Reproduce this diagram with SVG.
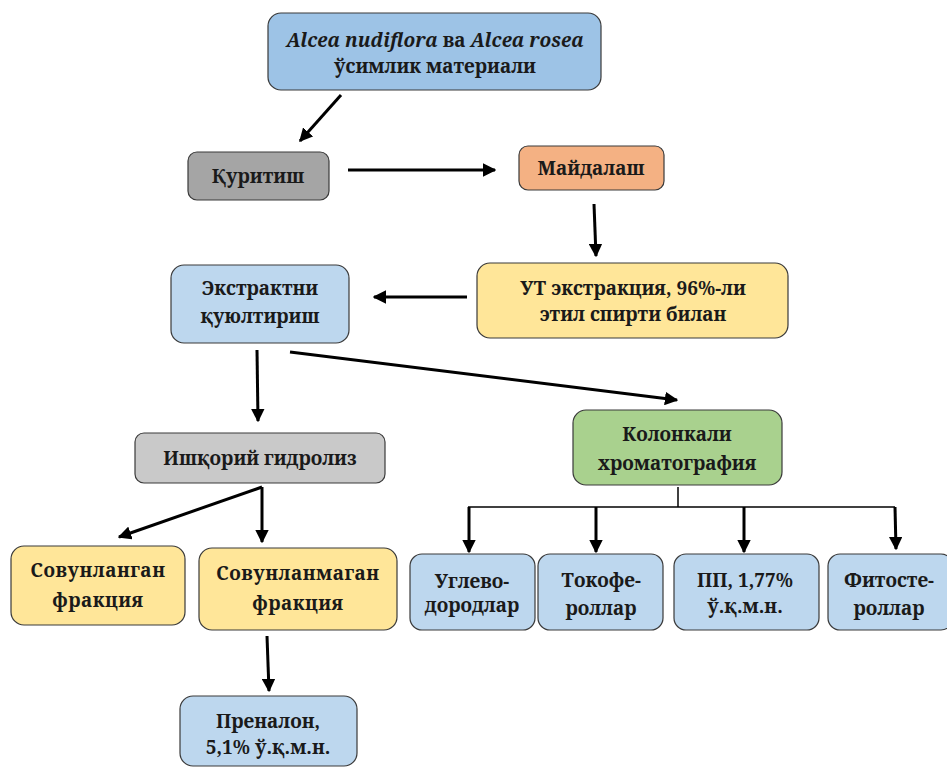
<svg xmlns="http://www.w3.org/2000/svg" width="947" height="769" viewBox="0 0 947 769">
<defs>
<style>
.box{stroke:#3a3a3a;stroke-width:1.2}
.t{font-family:'Noto Serif','DejaVu Serif','Liberation Serif',serif;font-weight:bold;font-size:19px;fill:#1a1a1a;text-anchor:middle}
.c{stroke:#000;stroke-width:3;fill:none}
.thin{stroke:#000;stroke-width:1.5;fill:none}
</style>
<marker id="ah" viewBox="0 0 10 10" refX="9" refY="5" markerWidth="4.5" markerHeight="4.5" orient="auto" markerUnits="strokeWidth">
<path d="M0,0 L10,5 L0,10 z" fill="#000"/>
</marker>
</defs>
<rect width="947" height="769" fill="#fff"/>
<g id="connectors">
<line class="c" x1="341" y1="95" x2="300" y2="141" marker-end="url(#ah)"/>
<line class="c" x1="348" y1="170" x2="495" y2="170" marker-end="url(#ah)"/>
<line class="c" x1="594" y1="204" x2="596" y2="256" marker-end="url(#ah)"/>
<line class="c" x1="467" y1="297" x2="374" y2="297" marker-end="url(#ah)"/>
<line class="c" x1="257" y1="350" x2="258" y2="421" marker-end="url(#ah)"/>
<line class="c" x1="290" y1="352" x2="677" y2="400" marker-end="url(#ah)"/>
<line class="c" x1="262" y1="487" x2="119" y2="537" marker-end="url(#ah)"/>
<line class="c" x1="262" y1="487" x2="262" y2="542" marker-end="url(#ah)"/>
<line class="c" x1="267" y1="636" x2="269" y2="691" marker-end="url(#ah)"/>
<line class="thin" x1="678" y1="487" x2="678" y2="507"/>
<line class="thin" x1="468" y1="507" x2="895" y2="507"/>
<line class="c" x1="469" y1="507" x2="469" y2="552" marker-end="url(#ah)"/>
<line class="c" x1="596" y1="507" x2="596" y2="552" marker-end="url(#ah)"/>
<line class="c" x1="744" y1="507" x2="744" y2="552" marker-end="url(#ah)"/>
<line class="c" x1="895" y1="507" x2="896" y2="549" marker-end="url(#ah)"/>
</g>
<g id="n-top">
<rect class="box" x="268" y="13" width="333" height="77" rx="13" fill="#9DC3E6"/>
<text class="t" x="435" y="47" font-size="18.7"><tspan font-style="italic">Alcea nudiflora</tspan> ва <tspan font-style="italic">Alcea rosea</tspan></text>
<text class="t" x="435" y="73">ўсимлик материали</text>
</g>
<g id="n-kuritish">
<rect class="box" x="188" y="152" width="141" height="48" rx="9" fill="#A5A5A5"/>
<text class="t" x="258" y="183">Қуритиш</text>
</g>
<g id="n-maydalash">
<rect class="box" x="519" y="146" width="145" height="44" rx="9" fill="#F4B183"/>
<text class="t" x="591" y="175">Майдалаш</text>
</g>
<g id="n-ut">
<rect class="box" x="477" y="263" width="311" height="75" rx="13" fill="#FFE699"/>
<text class="t" x="633" y="295" font-size="20">УТ экстракция, 96%-ли</text>
<text class="t" x="633" y="321" font-size="20">этил спирти билан</text>
</g>
<g id="n-ekstrakt">
<rect class="box" x="171" y="265" width="178" height="78" rx="13" fill="#BDD7EE"/>
<text class="t" x="260" y="295">Экстрактни</text>
<text class="t" x="260" y="323">қуюлтириш</text>
</g>
<g id="n-ishqoriy">
<rect class="box" x="135" y="433" width="250" height="50" rx="9" fill="#C9C9C9"/>
<text class="t" x="260" y="465">Ишқорий гидролиз</text>
</g>
<g id="n-kolonkali">
<rect class="box" x="573" y="410" width="209" height="75" rx="13" fill="#A9D18E"/>
<text class="t" x="677" y="441">Колонкали</text>
<text class="t" x="677" y="470">хроматография</text>
</g>
<g id="n-sovunlangan">
<rect class="box" x="11" y="546" width="174" height="79" rx="13" fill="#FFE699"/>
<text class="t" x="98" y="577" letter-spacing="0.5">Совунланган</text>
<text class="t" x="98" y="607" letter-spacing="0.5">фракция</text>
</g>
<g id="n-sovunlanmagan">
<rect class="box" x="199" y="548" width="198" height="82" rx="13" fill="#FFE699"/>
<text class="t" x="298" y="580" letter-spacing="0.5">Совунланмаган</text>
<text class="t" x="298" y="610" letter-spacing="0.5">фракция</text>
</g>
<g id="n-prenalon">
<rect class="box" x="180" y="696" width="177" height="70" rx="13" fill="#BDD7EE"/>
<text class="t" x="268" y="728">Преналон,</text>
<text class="t" x="268" y="754">5,1% ў.қ.м.н.</text>
</g>
<g id="n-uglevo">
<rect class="box" x="410" y="554" width="125" height="76" rx="12" fill="#BDD7EE"/>
<text class="t" x="472" y="588" font-size="17.5">Углево-</text>
<text class="t" x="472" y="612" font-size="17.5">дородлар</text>
</g>
<g id="n-tokofe">
<rect class="box" x="538" y="554" width="125" height="76" rx="12" fill="#BDD7EE"/>
<text class="t" x="601" y="587">Токофе-</text>
<text class="t" x="601" y="615">роллар</text>
</g>
<g id="n-pp">
<rect class="box" x="674" y="554" width="145" height="76" rx="12" fill="#BDD7EE"/>
<text class="t" x="745" y="587">ПП, 1,77%</text>
<text class="t" x="745" y="613">ў.қ.м.н.</text>
</g>
<g id="n-fitoste">
<rect class="box" x="828" y="554" width="125" height="76" rx="12" fill="#BDD7EE"/>
<text class="t" x="889" y="587">Фитосте-</text>
<text class="t" x="889" y="615">роллар</text>
</g>
</svg>
